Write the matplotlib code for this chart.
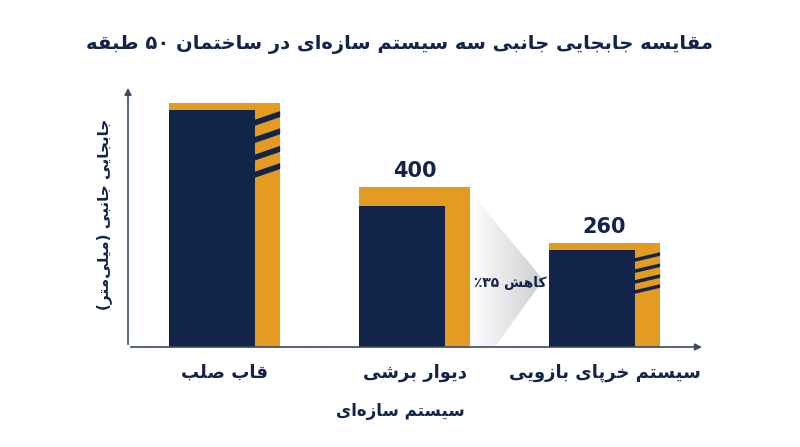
import re
import numpy as np
import matplotlib
matplotlib.use("Agg")
import matplotlib.pyplot as plt
from matplotlib.patches import Rectangle, Polygon

categories = ["قاب صلب", "دیوار برشی", "سیستم خرپای بازویی"]
values = [610, 400, 260]
value_labels = ["", "400", "260"]
inner_gap = [17, 48, 17]
striped = [True, False, True]
title = "مقایسه جابجایی جانبی سه سیستم سازه‌ای در ساختمان ۵۰ طبقه"
ylabel = "جابجایی جانبی (میلی‌متر)"
xlabel = "سیستم سازه‌ای"
reduction = "کاهش ۳۵٪"

FORMS = {
    'ا': (0xFE8D, 0xFE8E, None, None), 'د': (0xFEA9, 0xFEAA, None, None),
    'ر': (0xFEAD, 0xFEAE, None, None), 'ز': (0xFEAF, 0xFEB0, None, None),
    'و': (0xFEED, 0xFEEE, None, None),
    'ب': (0xFE8F, 0xFE90, 0xFE91, 0xFE92), 'ت': (0xFE95, 0xFE96, 0xFE97, 0xFE98),
    'ج': (0xFE9D, 0xFE9E, 0xFE9F, 0xFEA0), 'خ': (0xFEA5, 0xFEA6, 0xFEA7, 0xFEA8),
    'س': (0xFEB1, 0xFEB2, 0xFEB3, 0xFEB4), 'ش': (0xFEB5, 0xFEB6, 0xFEB7, 0xFEB8),
    'ص': (0xFEB9, 0xFEBA, 0xFEBB, 0xFEBC), 'ط': (0xFEC1, 0xFEC2, 0xFEC3, 0xFEC4),
    'ف': (0xFED1, 0xFED2, 0xFED3, 0xFED4), 'ق': (0xFED5, 0xFED6, 0xFED7, 0xFED8),
    'ک': (0xFB8E, 0xFB8F, 0xFB90, 0xFB91), 'ل': (0xFEDD, 0xFEDE, 0xFEDF, 0xFEE0),
    'م': (0xFEE1, 0xFEE2, 0xFEE3, 0xFEE4), 'ن': (0xFEE5, 0xFEE6, 0xFEE7, 0xFEE8),
    'ه': (0xFEE9, 0xFEEA, 0xFEEB, 0xFEEC), 'ی': (0xFBFC, 0xFBFD, 0xFBFE, 0xFBFF),
    'پ': (0xFB56, 0xFB57, 0xFB58, 0xFB59),
}

def shape(s):
    out = []
    n = len(s)
    for i, c in enumerate(s):
        if c == '\u200c':
            out.append('\u200b'[:0])
            continue
        if c not in FORMS:
            out.append(c)
            continue
        f = FORMS[c]
        dual = f[2] is not None
        jp = i > 0 and s[i-1] in FORMS and FORMS[s[i-1]][2] is not None
        jn = dual and i < n-1 and s[i+1] in FORMS
        if jp and jn:
            out.append(chr(f[3]))
        elif jp:
            out.append(chr(f[1]))
        elif jn:
            out.append(chr(f[2]))
        else:
            out.append(chr(f[0]))
    vis = ''.join(out)[::-1]
    vis = re.sub(r'[۰-۹0-9]+', lambda m: m.group(0)[::-1], vis)
    vis = vis.translate(str.maketrans('()', ')('))
    return vis

NAVY = "#13244a"
GOLD = "#e39b22"
AX = "#3c4a66"
plt.rcParams['font.family'] = ['DejaVu Sans']

fig = plt.figure(figsize=(8, 4.47), dpi=100)
ax = fig.add_axes([0.16, 0.2237, 0.721, 0.586])
ax.set_xlim(-0.506, 2.53)
ax.set_ylim(0, 655)
ax.axis('off')

x = np.arange(len(categories))
W = 0.585
WN = 0.45
lefts = x - 0.29

# gradient arrow between bars 2 and 3
x0 = lefts[1] + W
x1 = lefts[2] - 0.03
poly = Polygon([(x0, values[1] - 12), (x1, 168), (x0 + 0.13, 0), (x0, 0)],
               closed=True, facecolor='none', edgecolor='none')
ax.add_patch(poly)
grad = np.linspace(0, 1, 256).reshape(1, -1)
im = ax.imshow(grad, extent=[x0, x1, 0, values[1]], aspect='auto',
               cmap=matplotlib.colors.LinearSegmentedColormap.from_list('g', ['#ffffff', '#cdcdd0']),
               zorder=1)
im.set_clip_path(poly)
ax.text((x0 + x1) / 2 + 0.02, 160, shape(reduction), ha='center', va='center',
        fontsize=10, fontweight='bold', color=NAVY, zorder=3)

for i in range(len(categories)):
    ax.bar(lefts[i], values[i], width=W, align='edge', color=GOLD, zorder=2)
    ax.bar(lefts[i], values[i] - inner_gap[i], width=WN, align='edge', color=NAVY, zorder=3)
    if striped[i]:
        sx0 = lefts[i] + WN
        sx1 = lefts[i] + W
        top = values[i] - inner_gap[i]
        if i == 0:
            offs, th, rise = [0, 43, 87, 130], 15, 22
            start = top - 40
        else:
            offs, th, rise = [0, 28, 55, 80], 9, 15
            start = top - 30
        for o in offs:
            yb = start - o
            ax.add_patch(Polygon([(sx0, yb), (sx1, yb + rise), (sx1, yb + rise + th), (sx0, yb + th)],
                                 closed=True, color=NAVY, zorder=3, lw=0))
    if value_labels[i]:
        ax.text(lefts[i] + W / 2, values[i] + 15, value_labels[i], ha='center', va='bottom',
                fontsize=15, fontweight='bold', color=NAVY)
    ax.text(lefts[i] + W / 2, -0.1 * 655, shape(categories[i]), ha='center', va='center',
            fontsize=13, fontweight='bold', color=NAVY)

# axes with arrows
ax.annotate('', xy=(1.0, 0), xytext=(0, 0), xycoords='axes fraction',
            arrowprops=dict(arrowstyle='-|>', color=AX, lw=1.2, mutation_scale=10), zorder=5)
ax.annotate('', xy=(0, 1.0), xytext=(0, 0), xycoords='axes fraction',
            arrowprops=dict(arrowstyle='-|>', color=AX, lw=1.2, mutation_scale=10), zorder=5)

fig.text(0.5, 0.9, shape(title), ha='center', va='center', fontsize=14,
         fontweight='bold', color=NAVY)
fig.text(0.5, 0.08, shape(xlabel), ha='center', va='center', fontsize=12,
         fontweight='bold', color=NAVY)
fig.text(0.13, 0.52, shape(ylabel), ha='center', va='center', fontsize=11,
         fontweight='bold', color=NAVY, rotation=90)

fig.savefig("out.png", dpi=100)
